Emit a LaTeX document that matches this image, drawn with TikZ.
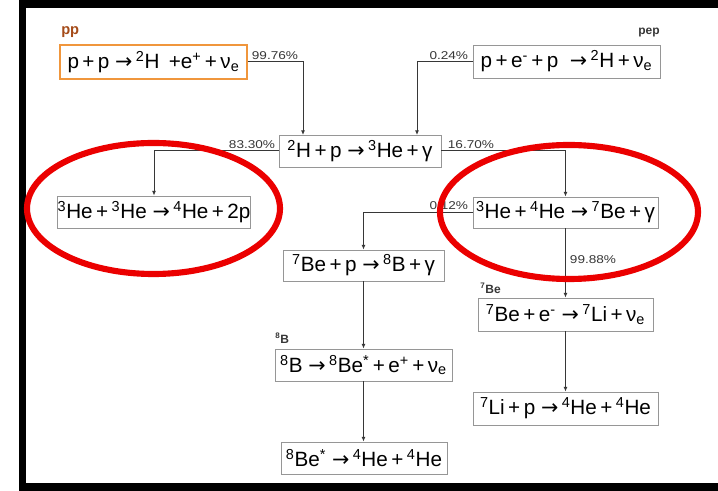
\documentclass[tikz,border=0pt]{standalone}
\usepackage{fontspec}
\setmainfont{Liberation Sans}
\newfontfamily\arrfont{DejaVu Sans}
\usetikzlibrary{arrows.meta}
\definecolor{ppor}{RGB}{240,150,60}
\definecolor{ppbr}{RGB}{165,75,25}
\definecolor{boxgray}{RGB}{150,150,150}
\definecolor{linegray}{RGB}{55,55,55}
\definecolor{ringred}{RGB}{235,0,0}
\newcommand\su[1]{\textsuperscript{#1}}
\newcommand\sbs[1]{\textsubscript{#1}}
\newcommand\pc[1]{\scalebox{1.2}[1]{#1}}
\newcommand\ra{{\arrfont →}}
\tikzset{
  rbox/.style={draw=boxgray, line width=0.65pt, fill=white, inner sep=0pt,
    font=\fontsize{15.5}{18}\selectfont},
  arr/.style={draw=linegray, line width=0.75pt, -{Latex[length=3.5pt,width=3pt]}},
  pct/.style={font=\fontsize{8.5}{10}\selectfont, text=linegray, inner sep=0.5pt},
  tag/.style={font=\bfseries\fontsize{9}{10}\selectfont, inner sep=0pt},
  ring/.style={draw=ringred, line width=4.6pt}
}
\begin{document}
\begin{tikzpicture}[x=0.75pt,y=-0.75pt]
\useasboundingbox (0,0) rectangle (718,491);
\fill[white] (0,0) rectangle (718,491);
% frame
\draw[line width=5.3pt, line join=miter] (718,4) -- (22.5,4) -- (22.5,487) -- (718,487);

% boxes
\node[rbox, draw=ppor, line width=1.1pt, minimum width=140.25pt, minimum height=25.5pt] (pp) at (153.5,62)
  {p\,+\,p \ra\,\su{2}H \,+e\su{+}\,+\,ν\sbs{e}};
\node[rbox, minimum width=140.25pt, minimum height=24.75pt] (pep) at (566.5,61.5)
  {p\,+\,e\su{-}\,+\,p \ \ra\,\su{2}H\,+\,ν\sbs{e}};
\node[rbox, minimum width=121.5pt, minimum height=24pt] (c) at (360,151)
  {\su{2}H\,+\,p \ra\,\su{3}He\,+\,γ};
\node[rbox, minimum width=141pt, minimum height=24pt] (l) at (154,212)
  {\su{3}He\,+\,\su{3}He \ra\,\su{4}He\,+\,2p};
\node[rbox, minimum width=138.75pt, minimum height=23.25pt] (r) at (565.5,212.5)
  {\su{3}He\,+\,\su{4}He \ra\,\su{7}Be\,+\,γ};
\node[rbox, minimum width=120.75pt, minimum height=23.25pt] (b7p) at (363.5,265.5)
  {\su{7}Be\,+\,p \ra\,\su{8}B\,+\,γ};
\node[rbox, minimum width=131.25pt, minimum height=24.75pt] (b7e) at (565.5,314.5)
  {\su{7}Be\,+\,e\su{-} \ra\,\su{7}Li\,+\,ν\sbs{e}};
\node[rbox, minimum width=132.75pt, minimum height=24pt] (b8) at (363.5,365)
  {\su{8}B \ra\,\su{8}Be\su{*}\,+\,e\su{+}\,+\,ν\sbs{e}};
\node[rbox, minimum width=124.5pt, minimum height=24pt] (be8) at (364,458)
  {\su{8}Be\su{*} \ra\,\su{4}He\,+\,\su{4}He};
\node[rbox, minimum width=138.75pt, minimum height=24.75pt] (li) at (565.5,408.5)
  {\su{7}Li\,+\,p \ra\,\su{4}He\,+\,\su{4}He};

% chain labels
\node[tag, text=ppbr, anchor=west, font=\bfseries\fontsize{11}{12}\selectfont] (tpp) at (61,32) {pp};
\node[tag, text=linegray, anchor=east] (tpep) at (660,33) {pep};
\node[tag, text=linegray, anchor=west] (t7be) at (480,288) {\su{7}Be};
\node[tag, text=linegray, anchor=west] (t8b) at (275,338) {\su{8}B};

% connectors
\coordinate (j1) at (303,135);
\coordinate (j2) at (417,135);
\draw[arr] (pp.east) -| (j1);
\draw[arr] (pep.west) -| (j2);
\draw[arr] (c.west) -| (l.north);
\draw[arr] (c.east) -| (r.north);
\draw[arr] (r.west) -| (b7p.north);
\draw[arr] (r.south) -- (b7e.north);
\draw[arr] (b7p.south) -- (b8.north);
\draw[arr] (b8.south) -- (b8.south |- be8.north);
\draw[arr] (b7e.south) -- (li.north);

% percentages
\node[pct, anchor=south west] (p1) at (251,61) {\pc{99.76\%}};
\node[pct, anchor=south east] (p2) at (469,61) {\pc{0.24\%}};
\node[pct, anchor=south east] (p3) at (276,150) {\pc{83.30\%}};
\node[pct, anchor=south west] (p4) at (447,150) {\pc{16.70\%}};
\node[pct, anchor=south east] (p5) at (469,211) {\pc{0.12\%}};
\node[pct, anchor=west] (p6) at (569,260) {\pc{99.88\%}};

% red rings
\draw[ring] (153.5,208.5) ellipse [x radius=126.5, y radius=65.5];
\draw[ring] (569,212) ellipse [x radius=129, y radius=67];
\end{tikzpicture}
\end{document}
